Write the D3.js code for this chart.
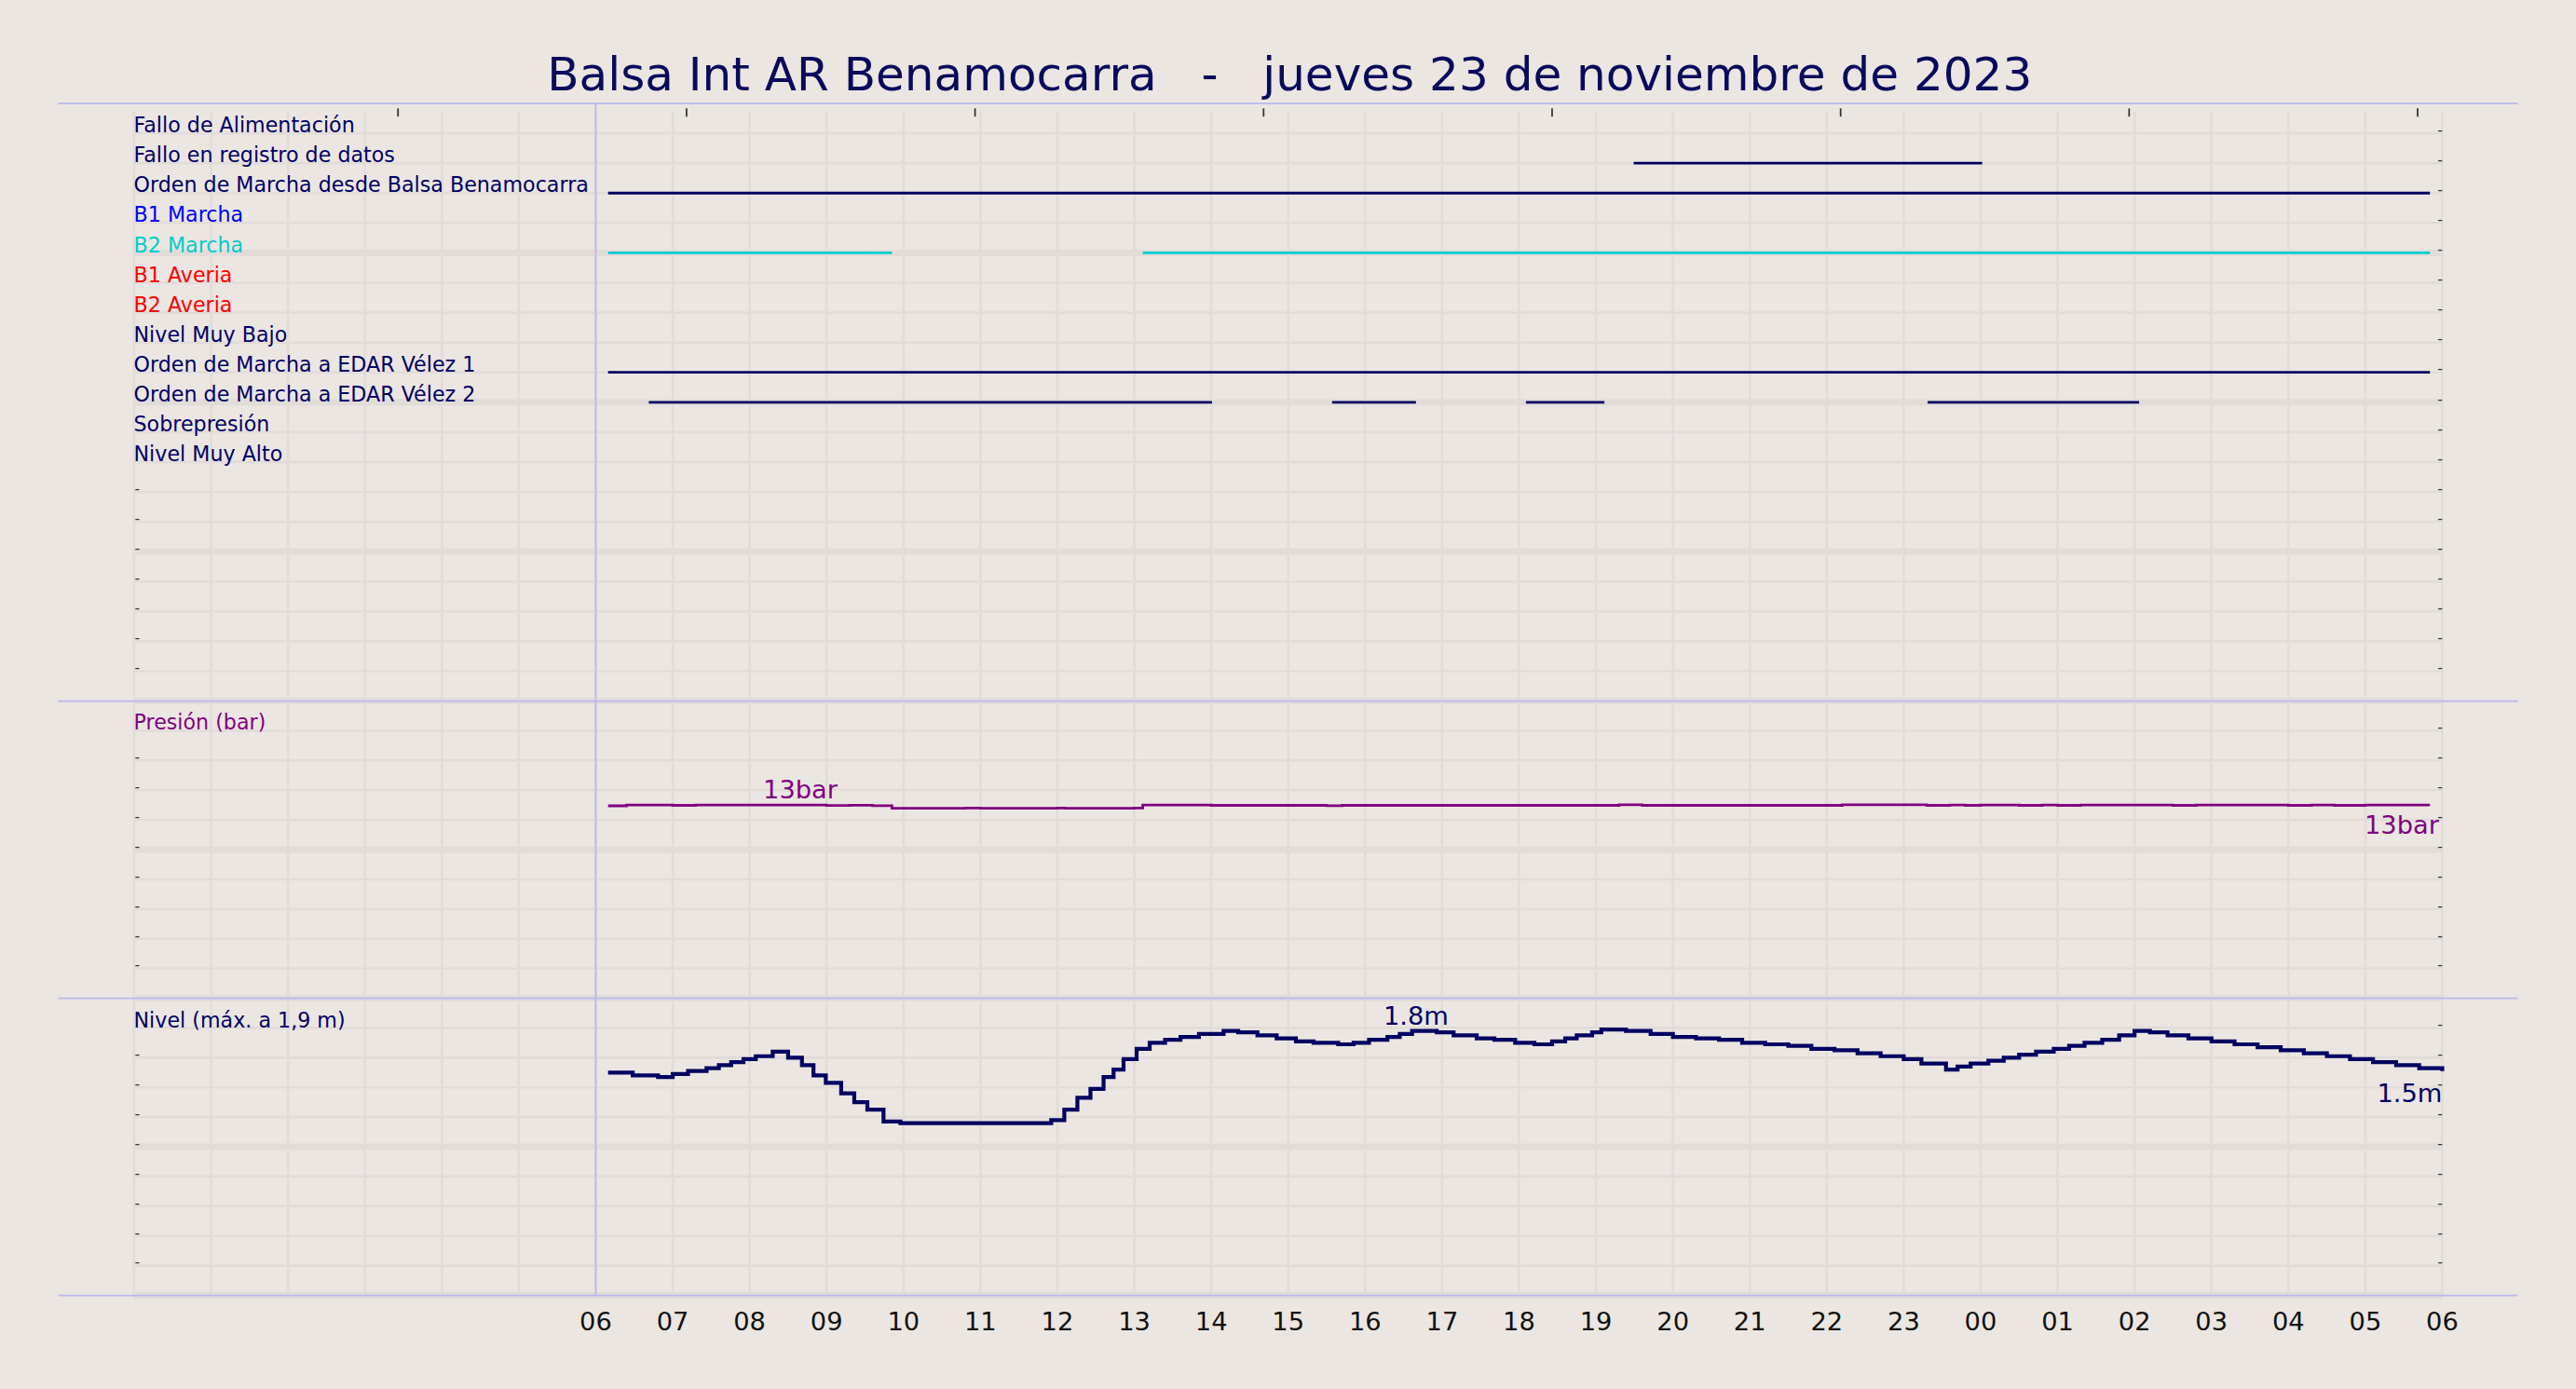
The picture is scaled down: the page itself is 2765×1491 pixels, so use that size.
<!DOCTYPE html>
<html><head><meta charset="utf-8">
<script src="https://cdn.jsdelivr.net/npm/d3@7"></script>
<style>html,body{margin:0;padding:0;background:#ebe6e1;}svg{display:block;font-family:"DejaVu Sans",sans-serif;}</style>
</head><body>
<script>
const title = "Balsa Int AR Benamocarra   -   jueves 23 de noviembre de 2023";
const signalLabels = ["Fallo de Alimentación","Fallo en registro de datos","Orden de Marcha desde Balsa Benamocarra","B1 Marcha","B2 Marcha","B1 Averia","B2 Averia","Nivel Muy Bajo","Orden de Marcha a EDAR Vélez 1","Orden de Marcha a EDAR Vélez 2","Sobrepresión","Nivel Muy Alto"];
const signalColors = ["#000066","#000066","#000066","#0000ff","#00cccc","#ff0000","#ff0000","#000066","#000066","#000066","#000066","#000066"];
const signalOn = [
  [],
  [[19.49,24.02]],
  [[6.16,29.84]],
  [],
  [[6.16,9.85],[13.11,29.84]],
  [],[],[],
  [[6.16,29.84]],
  [[6.69,14.01],[15.57,16.66],[18.09,19.11],[23.31,26.06]],
  [],[]
];
const hourLabels = ["06","07","08","09","10","11","12","13","14","15","16","17","18","19","20","21","22","23","00","01","02","03","04","05","06"];
const topTicks = [3.43,7.18,10.93,14.68,18.43,22.18,25.93,29.68];
const presT = [6.16,6.4,7.0,7.3,8.0,9.0,9.3,9.6,9.85,10.8,11.0,12.0,12.1,13.0,13.11,13.5,14.0,15.0,15.5,15.7,16.6,19.0,19.3,19.6,20.0,21.8,22.2,23.3,23.6,23.8,24.0,24.5,24.8,25.0,25.3,26.5,26.8,28.0,28.3,28.6,29.0,29.84];
const presV = [12.95,13.0,12.98,13.0,13.0,12.97,12.99,12.96,12.78,12.8,12.78,12.8,12.78,12.8,13.0,13.0,12.98,12.98,12.96,12.98,12.98,12.98,13.02,12.98,12.98,12.98,13.02,12.98,13.01,12.98,13.0,12.98,13.0,12.98,13.0,12.98,13.0,12.98,13.0,12.98,13.0,13.0];
const levT = [6.16,6.48,6.81,7.0,7.2,7.44,7.6,7.76,7.92,8.08,8.30,8.50,8.68,8.83,8.99,9.19,9.36,9.53,9.74,9.96,11.92,12.09,12.26,12.43,12.60,12.73,12.86,13.03,13.20,13.4,13.6,13.84,14.16,14.35,14.6,14.85,15.1,15.33,15.65,15.85,16.05,16.29,16.45,16.61,16.93,17.15,17.45,17.68,17.95,18.2,18.43,18.6,18.75,18.95,19.07,19.39,19.71,20.0,20.3,20.6,20.9,21.2,21.5,21.8,22.1,22.4,22.7,23.0,23.23,23.55,23.7,23.87,24.1,24.30,24.5,24.72,24.95,25.15,25.35,25.58,25.8,26.0,26.2,26.43,26.7,27.0,27.3,27.6,27.9,28.2,28.5,28.8,29.1,29.4,29.7,30.0];
const levV = [1.50,1.48,1.47,1.49,1.51,1.53,1.55,1.57,1.59,1.61,1.64,1.60,1.55,1.48,1.43,1.36,1.30,1.25,1.17,1.16,1.18,1.25,1.33,1.39,1.47,1.52,1.59,1.66,1.70,1.72,1.74,1.76,1.78,1.77,1.75,1.73,1.71,1.70,1.69,1.70,1.72,1.74,1.76,1.78,1.77,1.75,1.73,1.72,1.70,1.69,1.71,1.73,1.75,1.77,1.79,1.78,1.76,1.74,1.73,1.72,1.70,1.69,1.68,1.66,1.65,1.63,1.61,1.59,1.56,1.52,1.54,1.56,1.58,1.60,1.62,1.64,1.66,1.68,1.70,1.72,1.75,1.78,1.77,1.75,1.73,1.71,1.69,1.67,1.65,1.63,1.61,1.59,1.57,1.55,1.53,1.51];

const W=1568,H=846;
const svg=d3.select("body").append("svg").attr("width",2765).attr("height",1491).attr("viewBox",`0 0 ${W} ${H}`);
svg.append("rect").attr("width",W).attr("height",H).attr("fill","#ebe6e1");
const x=d3.scaleLinear().domain([0,30]).range([81.25,1487]);
const navy="#000066";
const panels=[{top:63,bot:427,rows:20},{top:427,bot:608,rows:10},{top:608,bot:789,rows:10}];
svg.append("g").selectAll("line").data(d3.range(0,31)).join("line")
  .attr("x1",d=>x(d)).attr("x2",d=>x(d)).attr("y1",68).attr("y2",789).attr("stroke","#e2dcd9").attr("stroke-width",1.5);
panels.forEach(p=>{
  const y=d3.scaleLinear().domain([0,p.rows]).range([p.top,p.bot]);
  const g=svg.append("g");
  g.selectAll("line").data(d3.range(1,p.rows+1)).join("line")
    .attr("x1",81).attr("x2",1487).attr("y1",d=>y(d)).attr("y2",d=>y(d))
    .attr("stroke","#e2dcd9").attr("stroke-width",d=>d%5===0?4:1.5);
  g.selectAll("text.rt").data(d3.range(1,p.rows)).join("text").attr("class","rt")
    .attr("x",1484).attr("y",d=>y(d)+1).attr("font-size",9).attr("fill","#333").text("-");
});
const leftTickY=[...d3.range(13,20).map(k=>63+k*18.2),...d3.range(2,10).map(k=>427+k*18.1),...d3.range(2,10).map(k=>608+k*18.1)];
svg.append("g").selectAll("text").data(leftTickY).join("text").attr("x",81.5).attr("y",d=>d+1).attr("font-size",9).attr("fill","#333").text("-");
[63,427,608,789].forEach(yy=>svg.append("line").attr("x1",35).attr("x2",1533).attr("y1",yy).attr("y2",yy).attr("stroke","#b8b8f0").attr("stroke-width",1));
svg.append("line").attr("x1",x(6)).attr("x2",x(6)).attr("y1",63).attr("y2",789).attr("stroke","#b8b8f0").attr("stroke-width",1);
svg.append("g").selectAll("line").data(topTicks).join("line").attr("x1",d=>x(d)).attr("x2",d=>x(d)).attr("y1",66).attr("y2",71).attr("stroke","#333").attr("stroke-width",1);
svg.append("text").attr("x",785).attr("y",55).attr("text-anchor","middle").attr("font-size",28.4).attr("fill","#0a0a5c").style("white-space","pre").text(title);
const ys=d3.scaleLinear().domain([0,20]).range([63,427]);
signalLabels.forEach((lab,i)=>{
  svg.append("text").attr("x",81).attr("y",ys(i+1)-0.5).attr("font-size",12.6).attr("fill",signalColors[i]).text(lab);
  signalOn[i].forEach(iv=>svg.append("line").attr("x1",x(iv[0])).attr("x2",x(iv[1])).attr("y1",ys(i+1)).attr("y2",ys(i+1))
    .attr("stroke",signalColors[i]===navy?"#000060":signalColors[i]).attr("stroke-width",1.6));
});
const yp=d3.scaleLinear().domain([0,20]).range([608,427]);
svg.append("text").attr("x",81).attr("y",444).attr("font-size",12.6).attr("fill","#800080").text("Presión (bar)");
svg.append("path").datum(presT.map((t,i)=>[t,presV[i]])).attr("fill","none").attr("stroke","#800080").attr("stroke-width",1.6)
  .attr("d",d3.line().x(d=>x(d[0])).y(d=>yp(d[1])).curve(d3.curveStepAfter));
svg.append("text").attr("x",487).attr("y",486).attr("text-anchor","middle").attr("font-size",15.5).attr("fill","#800080").text("13bar");
svg.append("text").attr("x",1485).attr("y",508).attr("text-anchor","end").attr("font-size",15.5).attr("fill","#800080").text("13bar");
const yl=d3.scaleLinear().domain([0,2]).range([789,608]);
svg.append("text").attr("x",81).attr("y",626).attr("font-size",12.6).attr("fill",navy).text("Nivel (máx. a 1,9 m)");
svg.append("path").datum(levT.map((t,i)=>[t,levV[i]])).attr("fill","none").attr("stroke","#000060").attr("stroke-width",2.4)
  .attr("d",d3.line().x(d=>x(d[0])).y(d=>yl(d[1])).curve(d3.curveStepAfter));
svg.append("text").attr("x",862).attr("y",624).attr("text-anchor","middle").attr("font-size",15.5).attr("fill",navy).text("1.8m");
svg.append("text").attr("x",1487).attr("y",671).attr("text-anchor","end").attr("font-size",15.5).attr("fill",navy).text("1.5m");
svg.append("g").selectAll("text").data(hourLabels).join("text").attr("x",(d,i)=>x(6+i)).attr("y",810).attr("text-anchor","middle")
  .attr("font-size",15.5).attr("fill","#111").text(d=>d);
</script>
</body></html>
